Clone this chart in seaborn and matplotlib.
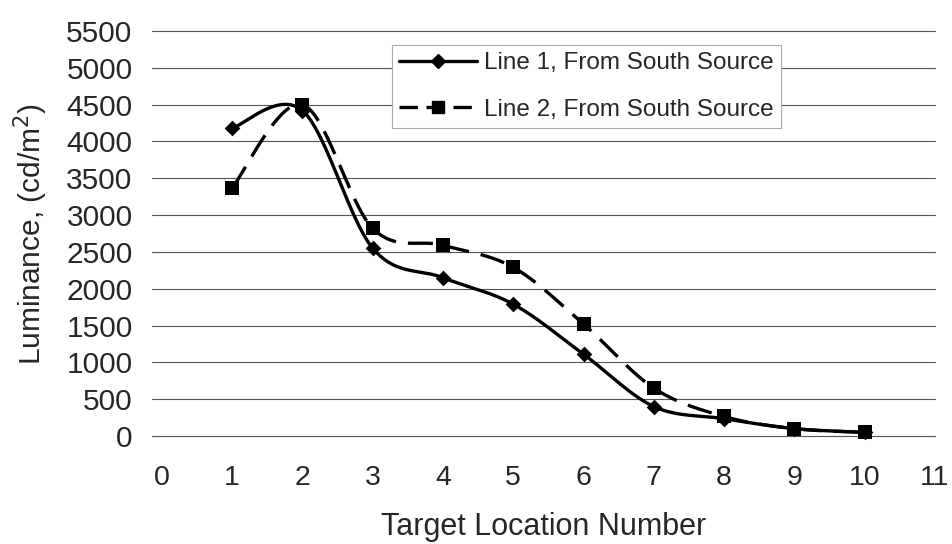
import numpy as np
import pandas as pd
import matplotlib
matplotlib.use("Agg")
import matplotlib.pyplot as plt
from matplotlib.lines import Line2D
import seaborn as sns

# ---- data ----
locations = [1, 2, 3, 4, 5, 6, 7, 8, 9, 10]
line1_values = [4180, 4420, 2550, 2150, 1790, 1110, 400, 235, 100, 50]
line2_values = [3370, 4500, 2820, 2590, 2290, 1520, 650, 265, 100, 50]
series_names = ["Line 1, From South Source", "Line 2, From South Source"]
x_ticks = list(range(0, 12))
y_ticks = list(range(0, 5501, 500))


def smooth(xs, ys, n=40):
    """Excel-style smoothed curve (Catmull-Rom Bezier) through the points."""
    P = np.column_stack([xs, ys]).astype(float)
    Pe = np.vstack([P[0], P, P[-1]])
    out = []
    for i in range(len(P) - 1):
        p0, p1, p2, p3 = Pe[i], Pe[i + 1], Pe[i + 2], Pe[i + 3]
        c1 = p1 + (p2 - p0) / 6.0
        c2 = p2 - (p3 - p1) / 6.0
        t = np.linspace(0, 1, n)[:, None]
        seg = ((1 - t) ** 3) * p1 + 3 * ((1 - t) ** 2) * t * c1 + 3 * (1 - t) * t ** 2 * c2 + t ** 3 * p2
        out.append(seg if i == 0 else seg[1:])
    out = np.vstack(out)
    return out[:, 0], out[:, 1]


sns.set_theme(style="white")
plt.rcParams["font.family"] = ["Liberation Sans", "DejaVu Sans"]

fig = plt.figure(figsize=(9.53, 5.44), dpi=100)
ax = fig.add_axes([152 / 953, 1 - 436 / 544, (935 - 152) / 953, (436 - 31) / 544])

dash_pat = (7.5, 3.6)
styles = [
    dict(marker="D", ms=8, dashes=None),
    dict(marker="s", ms=9.5, dashes=dash_pat),
]

for vals, st in zip([line1_values, line2_values], styles):
    sx, sy = smooth(locations, vals)
    df = pd.DataFrame({"x": sx, "y": sy})
    sns.lineplot(data=df, x="x", y="y", sort=False, ax=ax, color="black",
                 lw=2.4, estimator=None)
    line = ax.lines[-1]
    if st["dashes"]:
        line.set_dashes(st["dashes"])
    line.set_clip_on(False)
    line.set_zorder(4)
    pts = pd.DataFrame({"x": locations, "y": vals})
    sns.scatterplot(data=pts, x="x", y="y", ax=ax, marker=st["marker"],
                    s=st["ms"] ** 2, color="black", edgecolor="black",
                    linewidth=0, clip_on=False, zorder=5)

ax.set_xlim(-0.14, 11.0)
ax.set_ylim(0, 5500)
ax.set_xticks(x_ticks)
ax.set_yticks(y_ticks)
ax.set_xticklabels([str(v) for v in x_ticks], fontsize=20.5)
ax.set_yticklabels([str(v) for v in y_ticks], fontsize=21.5)
ax.tick_params(axis="x", length=0, pad=21)
ax.tick_params(axis="y", length=0, pad=14)
ax.yaxis.grid(True, color="#555555", lw=0.8)
for gl in ax.get_ygridlines():
    gl.set_clip_on(False)
ax.xaxis.grid(False)
for s in ax.spines.values():
    s.set_visible(False)
ax.set_xlabel("Target Location Number", fontsize=22, labelpad=15)
ax.set_ylabel("Luminance, (cd/m$^2$)", fontsize=21.5, labelpad=12)

handles = [
    Line2D([], [], color="black", lw=2.4, ls="-", marker="D", ms=7),
    Line2D([], [], color="black", lw=2.4, dashes=(5.5, 2.6), marker="s", ms=9),
]
leg = ax.legend(handles, series_names, loc="upper left",
                bbox_to_anchor=(392 / 953, 1 - 45 / 544),
                bbox_transform=fig.transFigure, fontsize=17.5,
                frameon=True, fancybox=False, framealpha=1,
                handlelength=3.2, handletextpad=0.3, borderpad=0.3,
                labelspacing=1.0, borderaxespad=0)
leg.get_frame().set_edgecolor("#aaaaaa")
leg.get_frame().set_linewidth(0.8)

fig.savefig("out.png", dpi=100, facecolor="white")
